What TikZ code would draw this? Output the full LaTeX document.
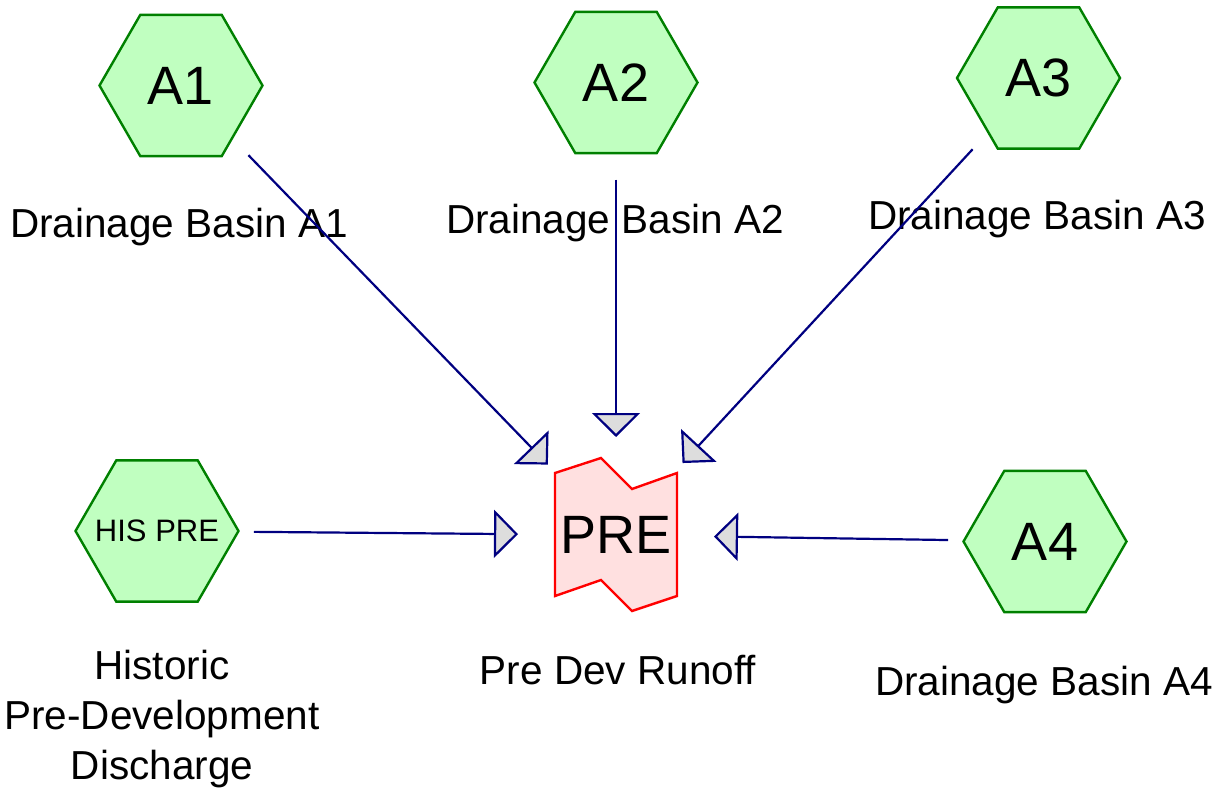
\documentclass[tikz,border=0pt]{standalone}
\usepackage{fontspec}
\setmainfont{Liberation Sans}
\usetikzlibrary{arrows.meta}
\usetikzlibrary{shapes.geometric}

\definecolor{basinfill}{HTML}{C0FFC0}
\definecolor{basinline}{HTML}{008000}
\definecolor{runofffill}{HTML}{FFE0E0}
\definecolor{runoffline}{HTML}{FF0000}
\definecolor{flowline}{HTML}{000080}
\definecolor{tipfill}{HTML}{DDDDDD}

\begin{document}
\begin{tikzpicture}[x=1pt, y=-1pt,
    basin/.style={regular polygon, regular polygon sides=6, draw=basinline, fill=basinfill,
      line width=2.4pt, inner sep=0pt, minimum size=163pt, font=\fontsize{54}{60}\selectfont},
    caption/.style={anchor=base, font=\fontsize{40.5}{50}\selectfont, align=center},
    flow/.style={draw=flowline, line width=2.2pt, shorten <=97pt, shorten >=98pt,
      -{Triangle[length=24pt, width=48pt, fill=tipfill]}}]
      \useasboundingbox (0,0) rectangle (1223,792);

      % basins
      \node[basin] (a1) at (181,85.5) {A1};
      \node[basin] (a2) at (616,82.5) {A2};
      \node[basin] (a3) at (1038.5,78) {A3};
      \node[basin] (a4) at (1045,541.5) {A4};
      \node[basin, label={[font=\fontsize{31}{36}\selectfont]center:HIS PRE}] (his) at (157,531) {};

      % runoff node
      \coordinate (pre) at (616,535);
      \filldraw[draw=runoffline, fill=runofffill, line width=2.4pt, shift={(pre)}]
        (-61,-62) -- (-15,-77) -- (16,-46) -- (61,-62) -- (61,61) -- (16,76) -- (-15,45) -- (-61,61) -- cycle;
      \node[font=\fontsize{54}{60}\selectfont, inner sep=0pt] (pretext) at (pre) {PRE};

      % captions
      \node[caption] (c1) at (179,237) {Drainage Basin A1};
      \node[caption] (c2) at (615,233) {Drainage Basin A2};
      \node[caption] (c3) at (1037,229) {Drainage Basin A3};
      \node[caption] (c4) at (1044,695) {Drainage Basin A4};
      \node[caption] (cp) at (618,684) {Pre Dev Runoff};
      \node[caption] (ch) at (162,779) {Historic\\Pre-Development\\Discharge};

      % flows
      \draw[flow] (a1.center) -- (pre);
      \draw[flow] (a2.center) -- (pre);
      \draw[flow] (a3.center) -- (pre);
      \draw[flow] (his.center) -- (pre);
      \draw[flow] (a4.center) -- (pre);
\end{tikzpicture}
\end{document}
